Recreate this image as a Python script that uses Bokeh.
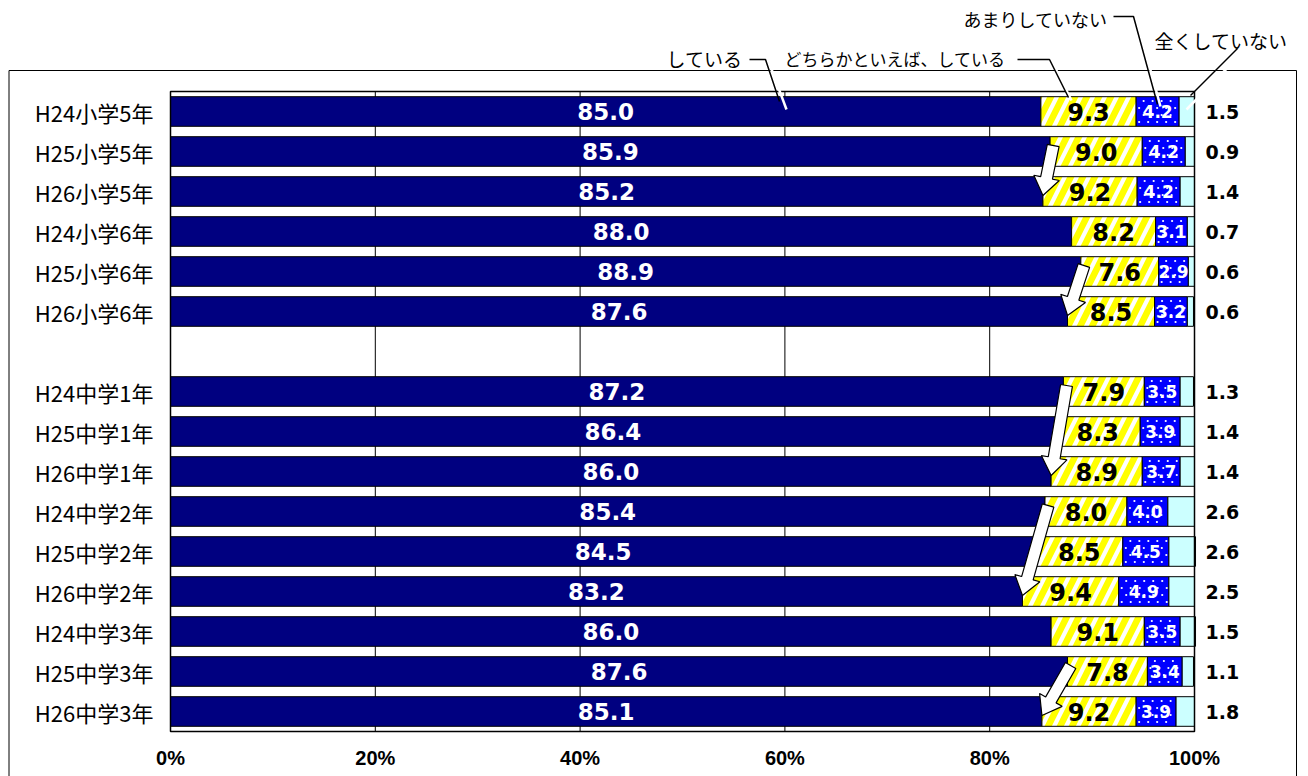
import math
from bokeh.plotting import figure
from bokeh.models import (ColumnDataSource, FixedTicker, PrintfTickFormatter, LinearAxis,
                          Range1d, Label)
from bokeh.core.properties import value
from bokeh.embed import file_html
from bokeh.resources import INLINE

# ---------------- data ----------------
categories = ["H24小学5年", "H25小学5年", "H26小学5年",
              "H24小学6年", "H25小学6年", "H26小学6年",
              "H24中学1年", "H25中学1年", "H26中学1年",
              "H24中学2年", "H25中学2年", "H26中学2年",
              "H24中学3年", "H25中学3年", "H26中学3年"]
shiteiru = [85.0, 85.9, 85.2, 88.0, 88.9, 87.6, 87.2, 86.4, 86.0, 85.4, 84.5, 83.2, 86.0, 87.6, 85.1]
dochira = [9.3, 9.0, 9.2, 8.2, 7.6, 8.5, 7.9, 8.3, 8.9, 8.0, 8.5, 9.4, 9.1, 7.8, 9.2]
amari = [4.2, 4.2, 4.2, 3.1, 2.9, 3.2, 3.5, 3.9, 3.7, 4.0, 4.5, 4.9, 3.5, 3.4, 3.9]
mattaku = [1.5, 0.9, 1.4, 0.7, 0.6, 0.6, 1.3, 1.4, 1.4, 2.6, 2.6, 2.5, 1.5, 1.1, 1.8]
series_names = ["している", "どちらかといえば、している", "あまりしていない", "全くしていない"]
x_ticks = [0, 20, 40, 60, 80, 100]
# trend arrows: (from row, to row)
trend_pairs = [(1, 2), (4, 5), (6, 8), (9, 11), (13, 14)]

# ---------------- layout ----------------
n = len(categories)
slots = [i if i < 6 else i + 1 for i in range(n)]   # blank slot between 小学 and 中学
n_slots = n + 1
ys = [n_slots - 1 - s for s in slots]

W, H = 1300, 776              # canvas
FX, FY = 170, 91              # plot area position on canvas
PW, PH = 1024, 640            # plot area size
Y_LO, Y_HI = -0.5, n_slots - 0.5
sx = PW / 100.0               # px per x unit
sy = PH / n_slots             # px per y unit


def px2x(px):
    return (px - FX) / sx


def py2y(py):
    return Y_HI - (py - FY) / sy


c1 = shiteiru
c2 = [a + b for a, b in zip(c1, dochira)]
c3 = [a + b for a, b in zip(c2, amari)]
c4 = [a + b for a, b in zip(c3, mattaku)]

src = ColumnDataSource(dict(
    y=ys, cat=categories,
    l0=[0] * n, r0=c1, l1=c1, r1=c2, l2=c2, r2=c3, l3=c3, r3=c4,
    t0=[f"{v:.1f}" for v in shiteiru], x0=[v / 2 for v in shiteiru],
    t1=[f"{v:.1f}" for v in dochira], x1=[a + b / 2 for a, b in zip(c1, dochira)],
    t2=[f"{v:.1f}" for v in amari], x2=[a + b / 2 for a, b in zip(c2, amari)],
))

p = figure(frame_width=W, frame_height=H,
           x_range=Range1d(px2x(0), px2x(W)), y_range=Range1d(py2y(H), py2y(0)),
           output_backend="svg", toolbar_location=None,
           min_border_left=0, min_border_right=0, min_border_top=0, min_border_bottom=0,
           background_fill_color="white", border_fill_color="white",
           x_axis_location=None, y_axis_location=None)
p.outline_line_color = None
p.grid.visible = False

# outer chart border
p.quad(left=[px2x(8.5)], right=[px2x(1296)], top=[py2y(70)], bottom=[py2y(H + 20)],
       fill_color=None, line_color="black", line_width=1)

# vertical grid lines inside the plot area
p.segment(x0=x_ticks, y0=[Y_LO] * len(x_ticks), x1=x_ticks, y1=[Y_HI] * len(x_ticks),
          line_color="black", line_width=1)

BH = 0.74
p.hbar(y="y", left="l0", right="r0", height=BH, source=src,
       fill_color="#000080", line_color="black", line_width=1)
p.hbar(y="y", left="l1", right="r1", height=BH, source=src,
       fill_color="white", hatch_pattern="/", hatch_color="#FFFF00",
       hatch_scale=24, hatch_weight=6.5, line_color="black", line_width=1)
p.hbar(y="y", left="l2", right="r2", height=BH, source=src,
       fill_color="#0000FF", line_color="black", line_width=1)
p.hbar(y="y", left="l3", right="r3", height=BH, source=src,
       fill_color="#CCFFFF", line_color="black", line_width=1)

# sparse white dot texture of the あまりしていない segments
dx_, dy_ = [], []
for i in range(n):
    wpx = (c3[i] - c2[i]) * sx
    for k, yo in enumerate((-10.5, -3.5, 3.5, 10.5)):
        xo = 3.0 + (4.5 if k % 2 else 0.0)
        while xo < wpx - 2:
            dx_.append(c2[i] + xo / sx)
            dy_.append(ys[i] + yo / sy)
            xo += 9.0
p.scatter(dx_, dy_, size=2.2, marker="circle", fill_color="white", line_color=None)

p.quad(left=[0], right=[100], top=[Y_HI], bottom=[Y_LO],
       fill_color=None, line_color="black", line_width=1.5)

p.text(x="x0", y="y", text="t0", source=src, text_align="center", text_baseline="middle",
       text_font=value("DejaVu Sans"), text_font_style="bold", text_font_size="23px",
       text_color="white")
p.text(x="x1", y="y", text="t1", source=src, text_align="center", text_baseline="middle",
       text_font=value("DejaVu Sans"), text_font_style="bold", text_font_size="24px",
       text_color="black")
p.text(x="x2", y="y", text="t2", source=src, text_align="center", text_baseline="middle",
       text_font=value("DejaVu Sans"), text_font_style="bold", text_font_size="17px",
       text_color="white")

# trend block arrows
axs, ays = [], []
for a, b in trend_pairs:
    X0, Y0 = (shiteiru[a] + 0.3) * sx, -(ys[a] + 0.15) * sy
    X1, Y1 = shiteiru[b] * sx, -(ys[b] - 0.1) * sy
    ddx, ddy = X1 - X0, Y1 - Y0
    L = math.hypot(ddx, ddy)
    ux, uy = ddx / L, ddy / L
    nx, ny = -uy, ux
    NX, NY = X1 - ux * 18, Y1 - uy * 18
    pts = [(X0 + nx * 6, Y0 + ny * 6), (NX + nx * 6, NY + ny * 6), (NX + nx * 13, NY + ny * 13),
           (X1, Y1), (NX - nx * 13, NY - ny * 13), (NX - nx * 6, NY - ny * 6),
           (X0 - nx * 6, Y0 - ny * 6)]
    axs.append([q[0] / sx for q in pts])
    ays.append([-q[1] / sy for q in pts])
p.patches(axs, ays, fill_color="white", line_color="black", line_width=1.2)

# axes placed at the plot-area edges
xax = LinearAxis(fixed_location=Y_LO, ticker=FixedTicker(ticks=x_ticks),
                 formatter=PrintfTickFormatter(format="%d%%"))
yax = LinearAxis(fixed_location=0, ticker=FixedTicker(ticks=ys),
                 major_label_overrides={y: c for y, c in zip(ys, categories)})
rax = LinearAxis(fixed_location=100, ticker=FixedTicker(ticks=ys),
                 major_label_overrides={y: f"{v:.1f}" for y, v in zip(ys, mattaku)})
for ax in (xax, yax, rax):
    ax.axis_line_color = None
    ax.major_tick_line_color = None
    ax.minor_tick_line_color = None
    ax.major_tick_out = 0
    ax.major_tick_in = 0
    ax.major_label_text_color = "black"
xax.major_label_standoff = 15
xax.major_label_text_font = "Liberation Sans"
xax.major_label_text_font_style = "bold"
xax.major_label_text_font_size = "20px"
yax.major_label_standoff = 17
yax.major_label_text_font = "Noto Sans CJK JP"
yax.major_label_text_font_size = "22px"
rax.major_label_standoff = 11
rax.major_label_text_font = "DejaVu Sans"
rax.major_label_text_font_style = "bold"
rax.major_label_text_font_size = "19px"
p.add_layout(xax, "below")
p.add_layout(yax, "left")
p.add_layout(rax, "right")

# series callouts with leader lines
callouts = [
    (series_names[0], 742, 58, 19, [(749, 59), (765, 59), (779, 101)], [(770, 66), (786, 109)]),
    (series_names[1], 1005, 58, 17, [(1017, 59), (1049, 59), (1068, 97)], [(1053, 64), (1071, 100)]),
    (series_names[2], 1107, 18, 18, [(1113, 16), (1133, 16), (1157, 104)], [(1137, 22), (1160, 106)]),
    (series_names[3], 1287, 40, 19, [(1237, 48), (1190, 95)], [(1242, 52), (1186, 109)]),
]
for text, tx, ty, fs, line, shadow in callouts:
    p.line([px2x(q[0]) for q in shadow], [py2y(q[1]) for q in shadow],
           line_color="white", line_width=2.5)
    p.line([px2x(q[0]) for q in line], [py2y(q[1]) for q in line],
           line_color="black", line_width=1.5)
    p.add_layout(Label(x=px2x(tx), y=py2y(ty), text=text, text_align="right",
                       text_baseline="middle", text_font="Noto Sans CJK JP",
                       text_font_size=f"{fs}px", text_color="black"))

open("out.html", "w").write(file_html(p, INLINE))
